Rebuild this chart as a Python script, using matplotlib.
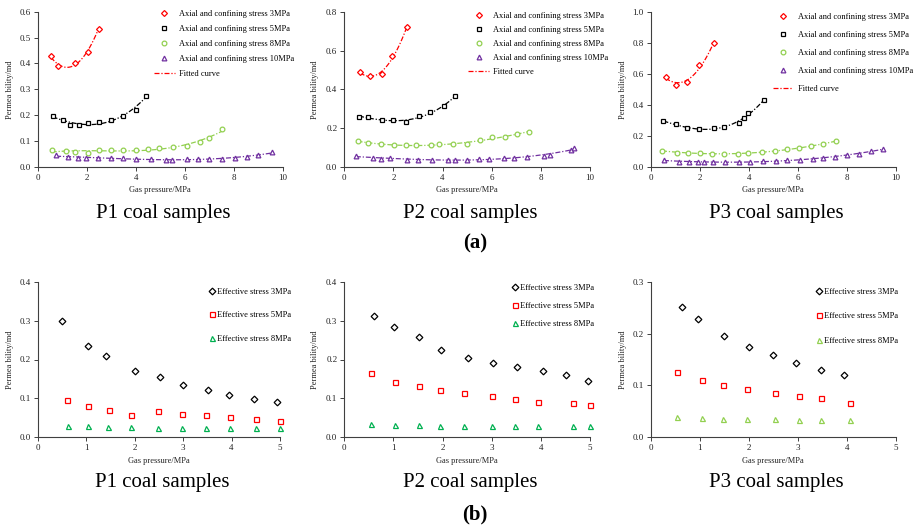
import numpy as np
import matplotlib
matplotlib.use("Agg")
import matplotlib.pyplot as plt
from matplotlib.lines import Line2D

plt.rcParams['font.family'] = ['Liberation Serif', 'DejaVu Serif']

W, H = 916, 527

# ---------------- (a) data: axial and confining stress ----------------
# P1
a1_3_x = [0.54, 0.84, 1.54, 2.04, 2.48]
a1_3_y = [0.427, 0.391, 0.401, 0.446, 0.535]
a1_5_x = [0.61, 1.04, 1.33, 1.70, 2.04, 2.50, 2.97, 3.49, 3.99, 4.40]
a1_5_y = [0.198, 0.180, 0.163, 0.163, 0.170, 0.172, 0.180, 0.198, 0.221, 0.276]
a1_8_x = [0.57, 1.15, 1.53, 2.04, 2.48, 2.99, 3.49, 4.00, 4.49, 4.94, 5.51, 6.10, 6.61, 6.99, 7.53]
a1_8_y = [0.064, 0.060, 0.058, 0.053, 0.066, 0.064, 0.064, 0.066, 0.068, 0.073, 0.077, 0.082, 0.095, 0.112, 0.147]
a1_10_x = [0.75, 1.25, 1.63, 1.98, 2.44, 2.99, 3.49, 3.99, 4.60, 5.22, 5.48, 6.07, 6.54, 6.97, 7.53, 8.03, 8.52, 8.98, 9.57]
a1_10_y = [0.045, 0.039, 0.036, 0.036, 0.035, 0.033, 0.033, 0.031, 0.030, 0.028, 0.028, 0.030, 0.030, 0.031, 0.032, 0.036, 0.039, 0.046, 0.057]
# P2
a2_3_x = [0.64, 1.04, 1.52, 1.95, 2.56]
a2_3_y = [0.487, 0.469, 0.480, 0.572, 0.723]
a2_5_x = [0.60, 0.98, 1.55, 1.99, 2.51, 3.05, 3.49, 4.06, 4.52]
a2_5_y = [0.259, 0.257, 0.243, 0.240, 0.230, 0.262, 0.283, 0.312, 0.367]
a2_8_x = [0.54, 0.98, 1.51, 2.04, 2.51, 2.93, 3.53, 3.85, 4.44, 5.01, 5.54, 6.00, 6.53, 7.04, 7.50]
a2_8_y = [0.134, 0.123, 0.116, 0.115, 0.113, 0.113, 0.111, 0.116, 0.116, 0.120, 0.139, 0.152, 0.156, 0.168, 0.182]
a2_10_x = [0.47, 1.18, 1.49, 1.86, 2.54, 2.98, 3.58, 4.21, 4.50, 4.98, 5.48, 5.90, 6.49, 6.90, 7.44, 8.11, 8.38, 9.21, 9.35]
a2_10_y = [0.057, 0.048, 0.043, 0.046, 0.038, 0.038, 0.038, 0.036, 0.036, 0.036, 0.039, 0.043, 0.045, 0.048, 0.053, 0.058, 0.063, 0.086, 0.098]
# P3
a3_3_x = [0.61, 1.02, 1.49, 1.98, 2.58]
a3_3_y = [0.582, 0.531, 0.550, 0.657, 0.797]
a3_5_x = [0.52, 1.02, 1.49, 1.98, 2.58, 3.00, 3.59, 3.79, 3.95, 4.63]
a3_5_y = [0.296, 0.274, 0.253, 0.242, 0.251, 0.259, 0.283, 0.313, 0.349, 0.433]
a3_8_x = [0.46, 1.06, 1.54, 2.01, 2.51, 2.99, 3.57, 3.98, 4.52, 5.05, 5.54, 6.06, 6.54, 7.04, 7.55]
a3_8_y = [0.105, 0.092, 0.092, 0.088, 0.086, 0.086, 0.086, 0.090, 0.094, 0.101, 0.114, 0.122, 0.137, 0.148, 0.167]
a3_10_x = [0.54, 1.15, 1.56, 1.94, 2.19, 2.53, 3.03, 3.60, 4.05, 4.58, 5.10, 5.54, 6.09, 6.63, 7.01, 7.53, 8.00, 8.51, 8.98, 9.48]
a3_10_y = [0.047, 0.034, 0.034, 0.032, 0.030, 0.030, 0.032, 0.034, 0.034, 0.036, 0.039, 0.043, 0.047, 0.054, 0.058, 0.064, 0.077, 0.086, 0.103, 0.116]

a_labels = ["Axial and confining stress 3MPa", "Axial and confining stress 5MPa",
            "Axial and confining stress 8MPa", "Axial and confining stress 10MPa"]
a_fit_label = "Fitted curve"
a_ymax = [0.6, 0.8, 1.0]
a_yticks = [[0, 0.1, 0.2, 0.3, 0.4, 0.5, 0.6],
            [0, 0.2, 0.4, 0.6, 0.8],
            [0, 0.2, 0.4, 0.6, 0.8, 1.0]]
a_xticks = [0, 2, 4, 6, 8, 10]

# ---------------- (b) data: effective stress ----------------
b1_3_x = [0.50, 1.04, 1.41, 2.01, 2.53, 2.99, 3.52, 3.95, 4.46, 4.94]
b1_3_y = [0.299, 0.235, 0.209, 0.170, 0.154, 0.134, 0.122, 0.108, 0.099, 0.090]
b1_5_x = [0.61, 1.03, 1.47, 1.92, 2.48, 2.98, 3.48, 3.96, 4.50, 4.99]
b1_5_y = [0.096, 0.081, 0.069, 0.057, 0.067, 0.060, 0.057, 0.051, 0.047, 0.042]
b1_8_x = [0.62, 1.03, 1.46, 1.92, 2.48, 2.98, 3.48, 3.97, 4.50, 4.99]
b1_8_y = [0.030, 0.028, 0.027, 0.026, 0.025, 0.025, 0.025, 0.025, 0.025, 0.025]

b2_3_x = [0.60, 1.02, 1.52, 1.97, 2.52, 3.03, 3.51, 4.04, 4.51, 4.95]
b2_3_y = [0.313, 0.284, 0.257, 0.224, 0.205, 0.191, 0.182, 0.171, 0.159, 0.146]
b2_5_x = [0.54, 1.04, 1.52, 1.95, 2.44, 3.00, 3.48, 3.94, 4.66, 4.99]
b2_5_y = [0.165, 0.142, 0.132, 0.122, 0.114, 0.107, 0.099, 0.092, 0.088, 0.084]
b2_8_x = [0.54, 1.04, 1.52, 1.95, 2.44, 3.00, 3.48, 3.94, 4.66, 4.99]
b2_8_y = [0.035, 0.032, 0.031, 0.030, 0.030, 0.029, 0.029, 0.029, 0.029, 0.029]

b3_3_x = [0.63, 0.97, 1.49, 2.00, 2.49, 2.96, 3.48, 3.95]
b3_3_y = [0.252, 0.229, 0.196, 0.175, 0.159, 0.143, 0.130, 0.120]
b3_5_x = [0.53, 1.05, 1.48, 1.96, 2.53, 3.03, 3.48, 4.06]
b3_5_y = [0.125, 0.110, 0.100, 0.094, 0.085, 0.080, 0.075, 0.067]
b3_8_x = [0.53, 1.05, 1.48, 1.96, 2.53, 3.03, 3.48, 4.06]
b3_8_y = [0.040, 0.038, 0.036, 0.036, 0.035, 0.034, 0.034, 0.034]

b_labels = ["Effective stress 3MPa", "Effective stress 5MPa", "Effective stress 8MPa"]
b_ymax = [0.4, 0.4, 0.3]
b_yticks = [[0, 0.1, 0.2, 0.3, 0.4], [0, 0.1, 0.2, 0.3, 0.4], [0, 0.1, 0.2, 0.3]]
b_xticks = [0, 1, 2, 3, 4, 5]

titles = ["P1 coal samples", "P2 coal samples", "P3 coal samples"]
ylabel = "Permea bility/md"
xlabel = "Gas pressure/MPa"

# ---------------- styling ----------------
RED, BLACK, LGREEN, PURPLE, GREEN = "#ff0000", "#000000", "#92d050", "#7030a0", "#00b050"
a_colors = [RED, BLACK, LGREEN, PURPLE]
a_markers = ["D", "s", "o", "^"]
a_msize = [3.0, 3.4, 3.4, 3.4]
fit_ls = (0, (4, 1.5, 1, 1.5))

fig = plt.figure(figsize=(W / 100, H / 100), dpi=100)


def fx(px):
    return px / W


def fy(py):
    return 1 - py / H


def make_axes(left, right, top, bottom):
    ax = fig.add_axes([fx(left), fy(bottom), fx(right) - fx(left), fy(top) - fy(bottom)])
    for s in ("top", "right"):
        ax.spines[s].set_visible(False)
    for s in ("left", "bottom"):
        ax.spines[s].set_color("#404040")
        ax.spines[s].set_linewidth(0.8)
    ax.tick_params(direction="out", length=3, width=0.7, color="#404040",
                   labelsize=6.5, pad=2, labelcolor="#222222")
    return ax


top_pos = [(37.7, 283, 11.7, 167), (344.3, 590, 11.7, 167), (650.7, 896, 11.7, 167)]
bot_pos = [(37.7, 280, 281.7, 437.3), (344.3, 590, 281.7, 437.3), (650.7, 896, 281.7, 437.3)]

a_data = [
    [(a1_3_x, a1_3_y), (a1_5_x, a1_5_y), (a1_8_x, a1_8_y), (a1_10_x, a1_10_y)],
    [(a2_3_x, a2_3_y), (a2_5_x, a2_5_y), (a2_8_x, a2_8_y), (a2_10_x, a2_10_y)],
    [(a3_3_x, a3_3_y), (a3_5_x, a3_5_y), (a3_8_x, a3_8_y), (a3_10_x, a3_10_y)],
]
a_leg_pos = [(154, 10, 0.85), (468.5, 11.5, 0.72), (772.5, 13, 1.2)]
a_ylab_x = [10, 315, 623]

for i in range(3):
    l, r, t, b = top_pos[i]
    ax = make_axes(l, r, t, b)
    for j, (xs, ys) in enumerate(a_data[i]):
        xs = np.asarray(xs)
        ys = np.asarray(ys)
        deg = 2 if j == 0 else 3
        coef = np.polyfit(xs, ys, deg)
        xf = np.linspace(xs.min(), xs.max(), 100)
        ax.plot(xf, np.polyval(coef, xf), color=a_colors[j], ls=fit_ls, lw=0.9, zorder=2)
        ax.plot(xs, ys, ls="none", marker=a_markers[j], ms=a_msize[j], mfc="white",
                mec=a_colors[j], mew=0.9, zorder=3, clip_on=False)
    ax.set_xlim(0, 10)
    ax.set_ylim(0, a_ymax[i])
    ax.set_xticks(a_xticks)
    ax.set_yticks(a_yticks[i])
    ax.set_yticklabels([f"{v:.1f}" for v in a_yticks[i]])
    handles = [Line2D([], [], ls="none", marker=a_markers[j], ms=a_msize[j], mfc="white",
                      mec=a_colors[j], mew=0.9) for j in range(4)]
    handles.append(Line2D([], [], color=RED, ls=fit_ls, lw=0.9))
    lx, ly, lsp = a_leg_pos[i]
    ax.legend(handles, a_labels + [a_fit_label], loc="upper left",
              bbox_to_anchor=(fx(lx), fy(ly)), bbox_transform=fig.transFigure,
              frameon=False, fontsize=6, handlelength=2.5, handletextpad=0.5,
              labelspacing=lsp, borderpad=0, borderaxespad=0)
    fig.text(fx(a_ylab_x[i]), fy((t + b) / 2), ylabel, rotation=90, ha="center", va="center",
             fontsize=6, color="#222222")
    fig.text(fx((l + r) / 2), fy(190), xlabel, ha="center", va="center", fontsize=6,
             color="#222222")
    fig.text(fx((l + r) / 2 + 3), fy(218), titles[i], ha="center", va="baseline", fontsize=15)

fig.text(fx(475), fy(248), "(a)", ha="center", va="baseline", fontsize=15, fontweight="bold")

b_data = [
    [(b1_3_x, b1_3_y), (b1_5_x, b1_5_y), (b1_8_x, b1_8_y)],
    [(b2_3_x, b2_3_y), (b2_5_x, b2_5_y), (b2_8_x, b2_8_y)],
    [(b3_3_x, b3_3_y), (b3_5_x, b3_5_y), (b3_8_x, b3_8_y)],
]
b_colors = [[BLACK, RED, GREEN], [BLACK, RED, GREEN], [BLACK, RED, LGREEN]]
b_markers = ["D", "s", "^"]
b_msize = [3.4, 3.6, 3.6]
b_leg_pos = [(207.5, 287.5, 1.9), (510.5, 284, 1.2), (814.5, 287.5, 2.0)]

for i in range(3):
    l, r, t, b = bot_pos[i]
    ax = make_axes(l, r, t, b)
    for j, (xs, ys) in enumerate(b_data[i]):
        ax.plot(xs, ys, ls="none", marker=b_markers[j], ms=b_msize[j], mfc="white",
                mec=b_colors[i][j], mew=0.9, zorder=3, clip_on=False)
    ax.set_xlim(0, 5)
    ax.set_ylim(0, b_ymax[i])
    ax.set_xticks(b_xticks)
    ax.set_yticks(b_yticks[i])
    ax.set_yticklabels([f"{v:.1f}" for v in b_yticks[i]])
    handles = [Line2D([], [], ls="none", marker=b_markers[j], ms=b_msize[j], mfc="white",
                      mec=b_colors[i][j], mew=0.9) for j in range(3)]
    lx, ly, lsp = b_leg_pos[i]
    ax.legend(handles, b_labels, loc="upper left",
              bbox_to_anchor=(fx(lx), fy(ly)), bbox_transform=fig.transFigure,
              frameon=False, fontsize=6, handlelength=1.0, handletextpad=0.1,
              labelspacing=lsp, borderpad=0, borderaxespad=0)
    fig.text(fx(a_ylab_x[i]), fy((t + b) / 2), ylabel, rotation=90, ha="center", va="center",
             fontsize=6, color="#222222")
    fig.text(fx((l + r) / 2), fy(460.7), xlabel, ha="center", va="center", fontsize=6,
             color="#222222")
    fig.text(fx((l + r) / 2 + 3), fy(487), titles[i], ha="center", va="baseline", fontsize=15)

fig.text(fx(475), fy(519), "(b)", ha="center", va="baseline", fontsize=15, fontweight="bold")

fig.savefig("out.png", dpi=100)
